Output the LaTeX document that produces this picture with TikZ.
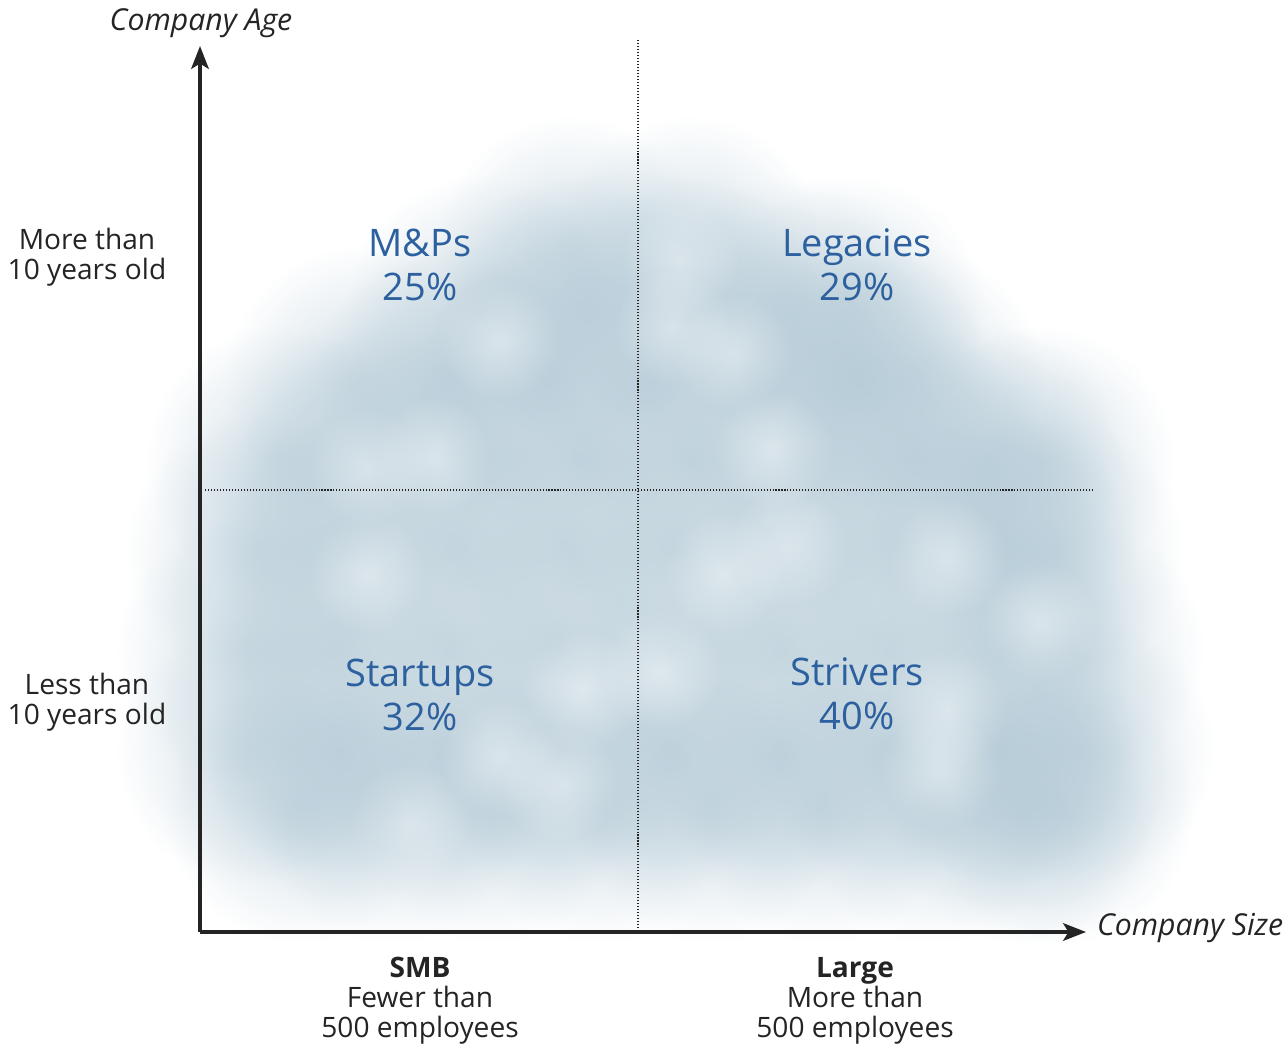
\documentclass[tikz,border=0pt]{standalone}
\usepackage{fontspec}
\setmainfont{Open Sans}
\usepackage{tikz}
\usetikzlibrary{arrows.meta,fadings}

\definecolor{segblue}{RGB}{44,96,158}
\definecolor{inkgray}{RGB}{36,36,36}
\definecolor{mist}{RGB}{176,199,212}

\tikzfading[name=blobfade, inner color=transparent!0, outer color=transparent!100]

\begin{document}
\begin{tikzpicture}[x=0.02cm, y=-0.02cm, every node/.style={inner sep=1.5pt},
  axis/.style={line width=2.1pt, draw=inkgray, -{Stealth[length=13pt,width=10pt,inset=3pt]}},
  divider/.style={draw=inkgray, line width=0.6pt, dash pattern=on 0.6pt off 1.1pt},
  seg/.style={text=segblue, align=center, font=\fontsize{21.6}{25}\selectfont},
  lab/.style={text=inkgray, align=center, font=\fontsize{16}{17}\selectfont},
  axlab/.style={text=inkgray, font=\fontsize{17.2}{19}\selectfont\itshape}]
  \useasboundingbox (0,0) rectangle (1288,1051);

  % cloud of respondents, row by row
  \foreach \cy/\xs in {250/{570,690},
      310/{480,580,690,790,850},
      380/{360,450,550,650,760,860,910},
      460/{280,370,470,580,690,800,910,990,1040},
      550/{260,350,460,570,680,790,900,1000,1050},
      650/{250,340,450,560,670,780,890,1000,1070},
      750/{250,340,450,560,670,780,890,1000,1080},
      810/{300,390,490,600,710,820,930,1020,1060}}
    \foreach \cx in \xs
      \fill[mist, fill opacity=0.56, path fading=blobfade] (\cx,\cy) circle [radius=0.02cm*135];
  % lighter patches inside the cloud
  \foreach \cx/\cy in {500/340,433/457,367/467,680/260,673/327,733/353,773/450,
      367/573,583/690,500/757,410/823,560/783,723/573,787/547,947/557,660/670,
      947/710,940/770,1040/623}
    \fill[white, fill opacity=0.4, path fading=blobfade] (\cx,\cy) circle [radius=0.02cm*60];

  % axes and quadrant dividers
  \coordinate (origin) at (200,932);
  \coordinate (ytip) at (200,46);
  \coordinate (xtip) at (1086,932);
  \coordinate (vtop) at (638,40);
  \coordinate (vbot) at (638,932);
  \coordinate (hleft) at (205,490);
  \coordinate (hright) at (1095,490);
  \draw[divider] (vtop) -- (vbot);
  \draw[divider] (hleft) -- (hright);
  \draw[axis] (origin) -- (ytip);
  \draw[axis] (origin) -- (xtip);

  \node[axlab] (agelab) at (201,23) {Company Age};
  \node[axlab, anchor=west] (sizelab) at (1094,928) {Company Size};

  \node[lab] (old) at (87,257) {More than\\10 years old};
  \node[lab] (young) at (87,702) {Less than\\10 years old};
  \node[lab] (smb) at (420,1001) {\textbf{SMB}\\Fewer than\\500 employees};
  \node[lab] (large) at (855,1001) {\textbf{Large}\\More than\\500 employees};

  \node[seg] (mps) at (420,265) {M\&Ps\\25\%};
  \node[seg] (legacies) at (857,265) {Legacies\\29\%};
  \node[seg] (startups) at (420,695) {Startups\\32\%};
  \node[seg] (strivers) at (857,694) {Strivers\\40\%};
\end{tikzpicture}
\end{document}
